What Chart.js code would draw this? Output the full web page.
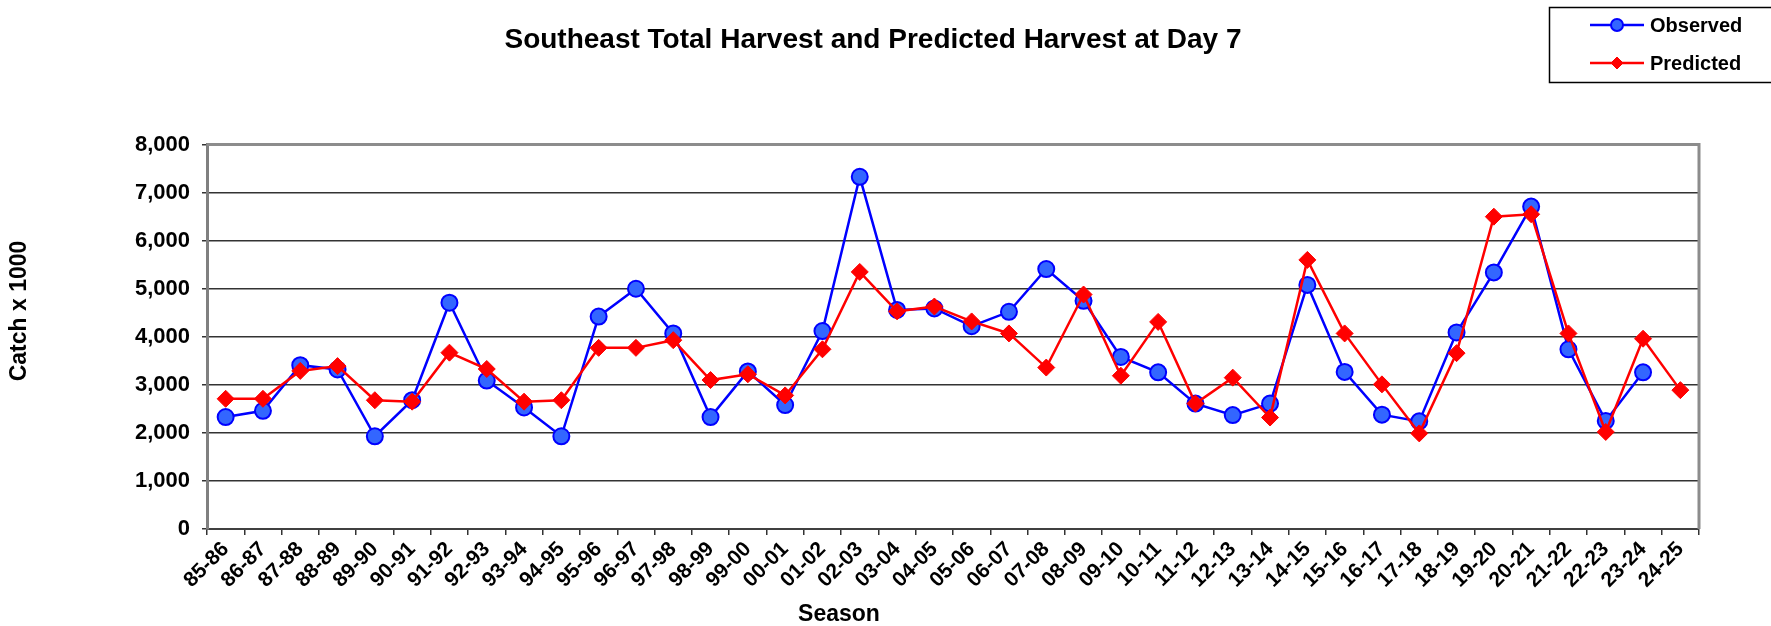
<!DOCTYPE html>
<html>
<head>
<meta charset="utf-8">
<title>Southeast Total Harvest and Predicted Harvest at Day 7</title>
<script src="https://cdn.jsdelivr.net/npm/chart.js@4/dist/chart.umd.min.js"></script>
<style>
  html, body { margin: 0; padding: 0; background: #ffffff; }
  #harvest-chart { display: block; }
</style>
</head>
<body>
<canvas id="harvest-chart" width="1771" height="626"></canvas>
<script>
// Seasons on the x axis
const seasons = [
  '85-86', '86-87', '87-88', '88-89', '89-90', '90-91', '91-92', '92-93', '93-94', '94-95',
  '95-96', '96-97', '97-98', '98-99', '99-00', '00-01', '01-02', '02-03', '03-04', '04-05',
  '05-06', '06-07', '07-08', '08-09', '09-10', '10-11', '11-12', '12-13', '13-14', '14-15',
  '15-16', '16-17', '17-18', '18-19', '19-20', '20-21', '21-22', '22-23', '23-24', '24-25',
];

// Observed harvest (catch x 1000), no value yet for the last season
const observed = [
  2330, 2460, 3410, 3320, 1930, 2680, 4710, 3090, 2530, 1930,
  4420, 5000, 4070, 2330, 3280, 2580, 4120, 7330, 4560, 4590,
  4220, 4520, 5410, 4750, 3580, 3260, 2610, 2370, 2610, 5080,
  3270, 2380, 2240, 4090, 5340, 6710, 3740, 2250, 3260, null,
];

// Predicted harvest at day 7 (catch x 1000)
const predicted = [
  2710, 2710, 3290, 3390, 2680, 2650, 3670, 3330, 2650, 2680,
  3770, 3770, 3930, 3100, 3220, 2780, 3740, 5350, 4530, 4630,
  4320, 4070, 3360, 4880, 3190, 4310, 2610, 3150, 2320, 5600,
  4070, 3010, 1990, 3660, 6500, 6550, 4070, 2020, 3960, 2890,
];

// Y axis range and step
const yMin = 0;
const yMax = 8000;
const yStep = 1000;

// Axis titles
const xTitle = 'Season';
const yTitle = 'Catch x 1000';

const FONT = "'Liberation Sans', Arial, sans-serif";

// Grey frame on the top and right of the plot area
const plotFrame = {
  id: 'plotFrame',
  beforeDatasetsDraw: (chart) => {
    const { ctx, chartArea: a } = chart;
    ctx.save();
    ctx.strokeStyle = '#8c8c8c';
    ctx.lineWidth = 3;
    ctx.beginPath();
    ctx.moveTo(a.left, a.top);
    ctx.lineTo(a.right, a.top);
    ctx.lineTo(a.right, a.bottom);
    ctx.stroke();
    ctx.restore();
  },
};

// Axis titles, placed where the original puts them (not centred on the plot)
const axisTitles = {
  id: 'axisTitles',
  afterDraw: (chart) => {
    const { ctx } = chart;
    ctx.save();
    ctx.fillStyle = '#000000';
    ctx.font = `bold 23px ${FONT}`;
    ctx.textAlign = 'center';
    ctx.textBaseline = 'middle';
    ctx.fillText(xTitle, 839, 615);

    ctx.translate(20, 311);
    ctx.rotate(-Math.PI / 2);
    ctx.fillText(yTitle, 0, 0);
    ctx.restore();
  },
};

// Boxed legend in the top right corner, built from the datasets
const boxLegend = {
  id: 'boxLegend',
  afterDraw: (chart) => {
    const { ctx } = chart;
    ctx.save();
    ctx.strokeStyle = '#000000';
    ctx.lineWidth = 1.5;
    ctx.strokeRect(1549.5, 7.5, 260, 75);

    const rows = [25, 63];
    const entries = [...chart.data.datasets].sort((a, b) => b.order - a.order);
    entries.forEach((ds, i) => {
      const y = rows[i];
      ctx.strokeStyle = ds.borderColor;
      ctx.lineWidth = 2.5;
      ctx.beginPath();
      ctx.moveTo(1590, y);
      ctx.lineTo(1644, y);
      ctx.stroke();

      ctx.fillStyle = ds.pointBackgroundColor;
      ctx.strokeStyle = ds.pointBorderColor;
      ctx.lineWidth = ds.pointBorderWidth;
      Chart.helpers.drawPoint(ctx, { pointStyle: ds.pointStyle, radius: 6, borderWidth: ds.pointBorderWidth }, 1617, y);

      ctx.fillStyle = '#000000';
      ctx.font = `bold 20px ${FONT}`;
      ctx.textAlign = 'left';
      ctx.textBaseline = 'middle';
      ctx.fillText(ds.label, 1650, y + 1);
    });
    ctx.restore();
  },
};

const ctx = document.getElementById('harvest-chart');

new Chart(ctx, {
  type: 'line',
  data: {
    labels: seasons,
    datasets: [
      {
        label: 'Observed',
        data: observed,
        order: 2,
        borderColor: '#0000ff',
        borderWidth: 2.5,
        pointStyle: 'circle',
        pointRadius: 8,
        pointBackgroundColor: '#3366ff',
        pointBorderColor: '#0000ff',
        pointBorderWidth: 2,
        tension: 0,
        spanGaps: false,
      },
      {
        label: 'Predicted',
        data: predicted,
        order: 1,
        borderColor: '#ff0000',
        borderWidth: 2.5,
        pointStyle: 'rectRot',
        pointRadius: 8.5,
        pointBackgroundColor: '#ff0000',
        pointBorderColor: '#ff0000',
        pointBorderWidth: 1,
        tension: 0,
      },
    ],
  },
  options: {
    responsive: false,
    animation: false,
    devicePixelRatio: 1,
    // right padding + the empty right axis keep the title centred like the original
    layout: {
      padding: { left: 0, right: 25, top: 0, bottom: 0 },
    },
    plugins: {
      legend: { display: false },
      tooltip: { enabled: false },
      title: {
        display: true,
        text: 'Southeast Total Harvest and Predicted Harvest at Day 7',
        color: '#000000',
        font: { family: FONT, size: 28, weight: 'bold' },
        padding: { top: 23, bottom: 88 },
      },
    },
    scales: {
      x: {
        offset: true,
        afterFit: (scale) => { scale.height = 97; },
        grid: {
          offset: true,
          drawOnChartArea: false,
          drawTicks: true,
          tickLength: 6,
          color: '#333333',
          lineWidth: 1.5,
        },
        border: { color: '#404040', width: 2 },
        ticks: {
          autoSkip: false,
          maxRotation: 45,
          minRotation: 45,
          padding: 2,
          color: '#000000',
          font: { family: FONT, size: 21, weight: 'bold' },
        },
      },
      y: {
        min: yMin,
        max: yMax,
        afterFit: (scale) => { scale.width = 207; },
        grid: {
          color: '#333333',
          lineWidth: 1.5,
          tickLength: 5,
        },
        border: { color: '#808080', width: 3 },
        ticks: {
          stepSize: yStep,
          padding: 12,
          color: '#000000',
          font: { family: FONT, size: 22, weight: 'bold' },
          callback: (value) => value.toLocaleString('en-US'),
        },
      },
      // empty spacer on the right, no marks
      yRight: {
        position: 'right',
        min: yMin,
        max: yMax,
        afterFit: (scale) => { scale.width = 47; },
        grid: { drawOnChartArea: false, drawTicks: false },
        border: { display: false },
        ticks: { display: false },
      },
    },
  },
  plugins: [plotFrame, axisTitles, boxLegend],
});
</script>
</body>
</html>
